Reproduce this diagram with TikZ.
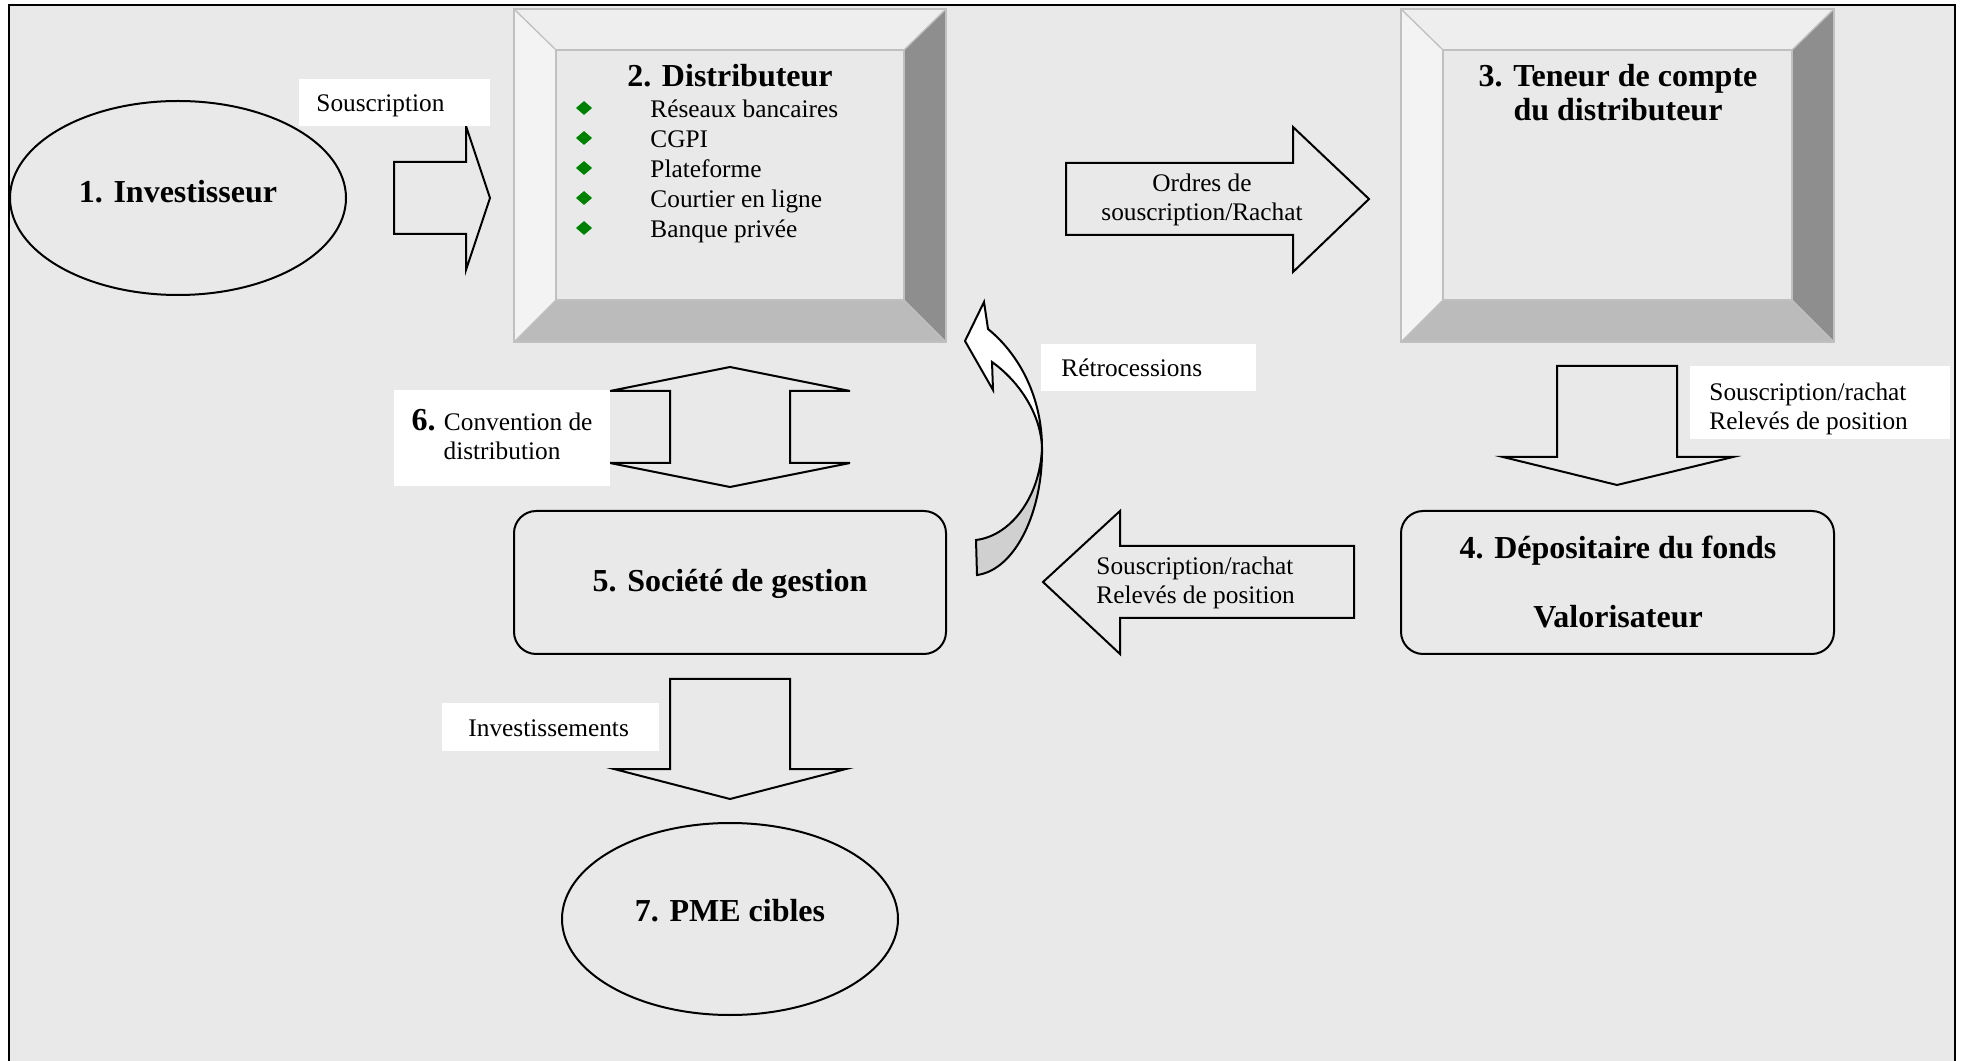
\documentclass[tikz,border=0pt]{standalone}
\usepackage{fontspec}
\setmainfont{Liberation Serif}
\usetikzlibrary{shapes.geometric}
\definecolor{bg}{HTML}{E9E9E9}
\definecolor{bvtop}{HTML}{EEEEEE}
\definecolor{bvleft}{HTML}{F3F3F3}
\definecolor{bvright}{HTML}{8E8E8E}
\definecolor{bvbot}{HTML}{BBBBBB}
\definecolor{bvin}{HTML}{E9E9E9}
\definecolor{bvline}{HTML}{C0C0C0}
\definecolor{bullgreen}{HTML}{008000}
\definecolor{backgray}{HTML}{D0D0D0}
\newcommand{\mybevel}[4]{%
  \fill[bvtop] (#1,#2) -- (#3,#2) -- ({#3-42},{#2+41}) -- ({#1+42},{#2+41}) -- cycle;
  \fill[bvleft] (#1,#2) -- ({#1+42},{#2+41}) -- ({#1+42},{#4-42}) -- (#1,#4) -- cycle;
  \fill[bvright] (#3,#2) -- (#3,#4) -- ({#3-42},{#4-42}) -- ({#3-42},{#2+41}) -- cycle;
  \fill[bvbot] (#1,#4) -- ({#1+42},{#4-42}) -- ({#3-42},{#4-42}) -- (#3,#4) -- cycle;
  \fill[bvin] ({#1+42},{#2+41}) rectangle ({#3-42},{#4-42});
  \draw[bvedge] ({#1+42},{#2+41}) rectangle ({#3-42},{#4-42});
  \draw[bvedge] (#1,#2) -- ({#1+42},{#2+41});
  \draw[bvedge] (#3,#2) -- ({#3-42},{#2+41});
  \draw[bvedge] (#1,#4) -- ({#1+42},{#4-42});
  \draw[bvedge] (#3,#4) -- ({#3-42},{#4-42});
  \draw[bvedge, line width=1.1pt] (#1,#2) rectangle (#3,#4);
}
\begin{document}
\begin{tikzpicture}[x=0.45pt,y=-0.45pt,
  bvedge/.style={draw=bvline, line width=0.6pt},
  shp/.style={draw=black, line width=0.9pt},
  lbl/.style={font=\fontsize{11.4}{13.2}\selectfont, inner sep=0pt},
  ttl/.style={font=\fontsize{14.4}{15.5}\selectfont\bfseries, inner sep=0pt},
  bull/.style={diamond, fill=bullgreen, draw=none, inner sep=0pt, minimum width=7.4pt, minimum height=6.4pt},
  whitebox/.style={fill=white, draw=none}
]
\useasboundingbox (0,0) rectangle (1961,1061);
\fill[white] (0,0) rectangle (1961,1061);
\fill[bg] (9,5) rectangle (1955,1061);
\draw[black, line width=1.3pt] (9,1061) -- (9,5) -- (1955,5) -- (1955,1061);

% ---- 1. Investisseur
\draw[shp] (178,198) ellipse [x radius=168, y radius=97];
\node[ttl, anchor=base] (inv) at (178,203) {1. Investisseur};

% ---- Souscription arrow
\draw[shp] (394,162) -- (466,162) -- (466,126) -- (490,198) -- (466,270) -- (466,234) -- (394,234) -- cycle;
\fill[whitebox] (299,79) rectangle (490,126);
\node[lbl, anchor=base west] (souslbl) at (316,112) {Souscription};

% ---- 2. Distributeur
\mybevel{514}{9}{946}{342}
\node[ttl, anchor=base] (dist) at (730,87) {2. Distributeur};
\foreach \yy/\tt/\nm in {118/Réseaux bancaires/a, 148/CGPI/b, 178/Plateforme/c, 208/Courtier en ligne/d, 238/Banque privée/e}{
  \node[bull] (bul\nm) at (584,\yy-10) {};
  \node[lbl, anchor=base west] (item\nm) at (650,\yy) {\tt};
}

% ---- 3. Teneur de compte
\mybevel{1401}{9}{1834}{342}
\node[ttl, anchor=base] (ten1) at (1618,87) {3. Teneur de compte};
\node[ttl, anchor=base] (ten2) at (1618,121) {du distributeur};

% ---- Ordres arrow
\draw[shp] (1066,163) -- (1293,163) -- (1293,127) -- (1369,199) -- (1293,272) -- (1293,235) -- (1066,235) -- cycle;
\node[lbl, anchor=base] (ordres1) at (1202,192) {Ordres de};
\node[lbl, anchor=base] (ordres2) at (1202,221) {souscription/Rachat};

% ---- Rétrocessions curved arrow
\coordinate (cT) at (984,302);
\coordinate (cL) at (965,341);
\coordinate (cR) at (993,390);
\coordinate (cA) at (988,329);
\coordinate (cB) at (992,362);
\coordinate (cP) at (1042,448);
\coordinate (cU) at (976,540);
\coordinate (cD) at (977,575);
\filldraw[shp, fill=backgray] (cP) .. controls (1043,512) and (1015,570) .. (cD) -- (cU) .. controls (1010,536) and (1040,498) .. (cP) -- cycle;
\filldraw[shp, fill=white] (cT) -- (cL) -- (cR) -- (cB) .. controls (1020,382) and (1041,415) .. (cP) .. controls (1042,398) and (1020,355) .. (cA) -- cycle;
\fill[whitebox] (1041,344) rectangle (1256,391);
\node[lbl, anchor=base west] (retro) at (1061,377) {Rétrocessions};

% ---- 6. Convention double arrow
\draw[shp] (730,367) -- (850,391) -- (790,391) -- (790,463) -- (850,463) -- (730,487) -- (610,463) -- (670,463) -- (670,391) -- (610,391) -- cycle;
\fill[whitebox] (394,390) rectangle (610,486);
\node[lbl, anchor=base] (conv1) at (502,431) {{\fontsize{14.4}{13.2}\selectfont\bfseries 6.} Convention de};
\node[lbl, anchor=base] (conv2) at (502,460) {distribution};

% ---- 5. Société de gestion
\draw[shp, rounded corners=10pt] (514,511) rectangle (946,654);
\node[ttl, anchor=base] (soc) at (730,592) {5. Société de gestion};

% ---- Right down arrow
\draw[shp] (1557,366) -- (1677,366) -- (1677,457) -- (1733,457) -- (1617,485) -- (1503,457) -- (1557,457) -- cycle;
\fill[whitebox] (1690,366) rectangle (1950,439);
\begin{scope}
  \clip (1690,366) rectangle (1950,436);
  \node[lbl, anchor=base west] (sr2a) at (1709,401) {Souscription/rachat};
  \node[lbl, anchor=base west] (sr2b) at (1709,430) {Relevés de position};
\end{scope}

% ---- 4. Dépositaire
\draw[shp, rounded corners=10pt] (1401,511) rectangle (1834,654);
\node[ttl, anchor=base] (dep) at (1618,559) {4. Dépositaire du fonds};
\node[ttl, anchor=base] (valo) at (1618,628) {Valorisateur};

% ---- Left arrow
\draw[shp] (1354,546) -- (1120,546) -- (1120,511) -- (1043,582) -- (1120,654) -- (1120,618) -- (1354,618) -- cycle;
\node[lbl, anchor=base west] (sr1a) at (1096,575) {Souscription/rachat};
\node[lbl, anchor=base west] (sr1b) at (1096,604) {Relevés de position};

% ---- Investissements arrow
\draw[shp] (670,679) -- (790,679) -- (790,769) -- (846,769) -- (730,799) -- (614,769) -- (670,769) -- cycle;
\fill[whitebox] (442,703) rectangle (659,751);
\node[lbl, anchor=base west] (invst) at (468,736) {Investissements};

% ---- 7. PME cibles
\draw[shp] (730,919) ellipse [x radius=168, y radius=96];
\node[ttl, anchor=base] (pme) at (730,921) {7. PME cibles};
\end{tikzpicture}
\end{document}
